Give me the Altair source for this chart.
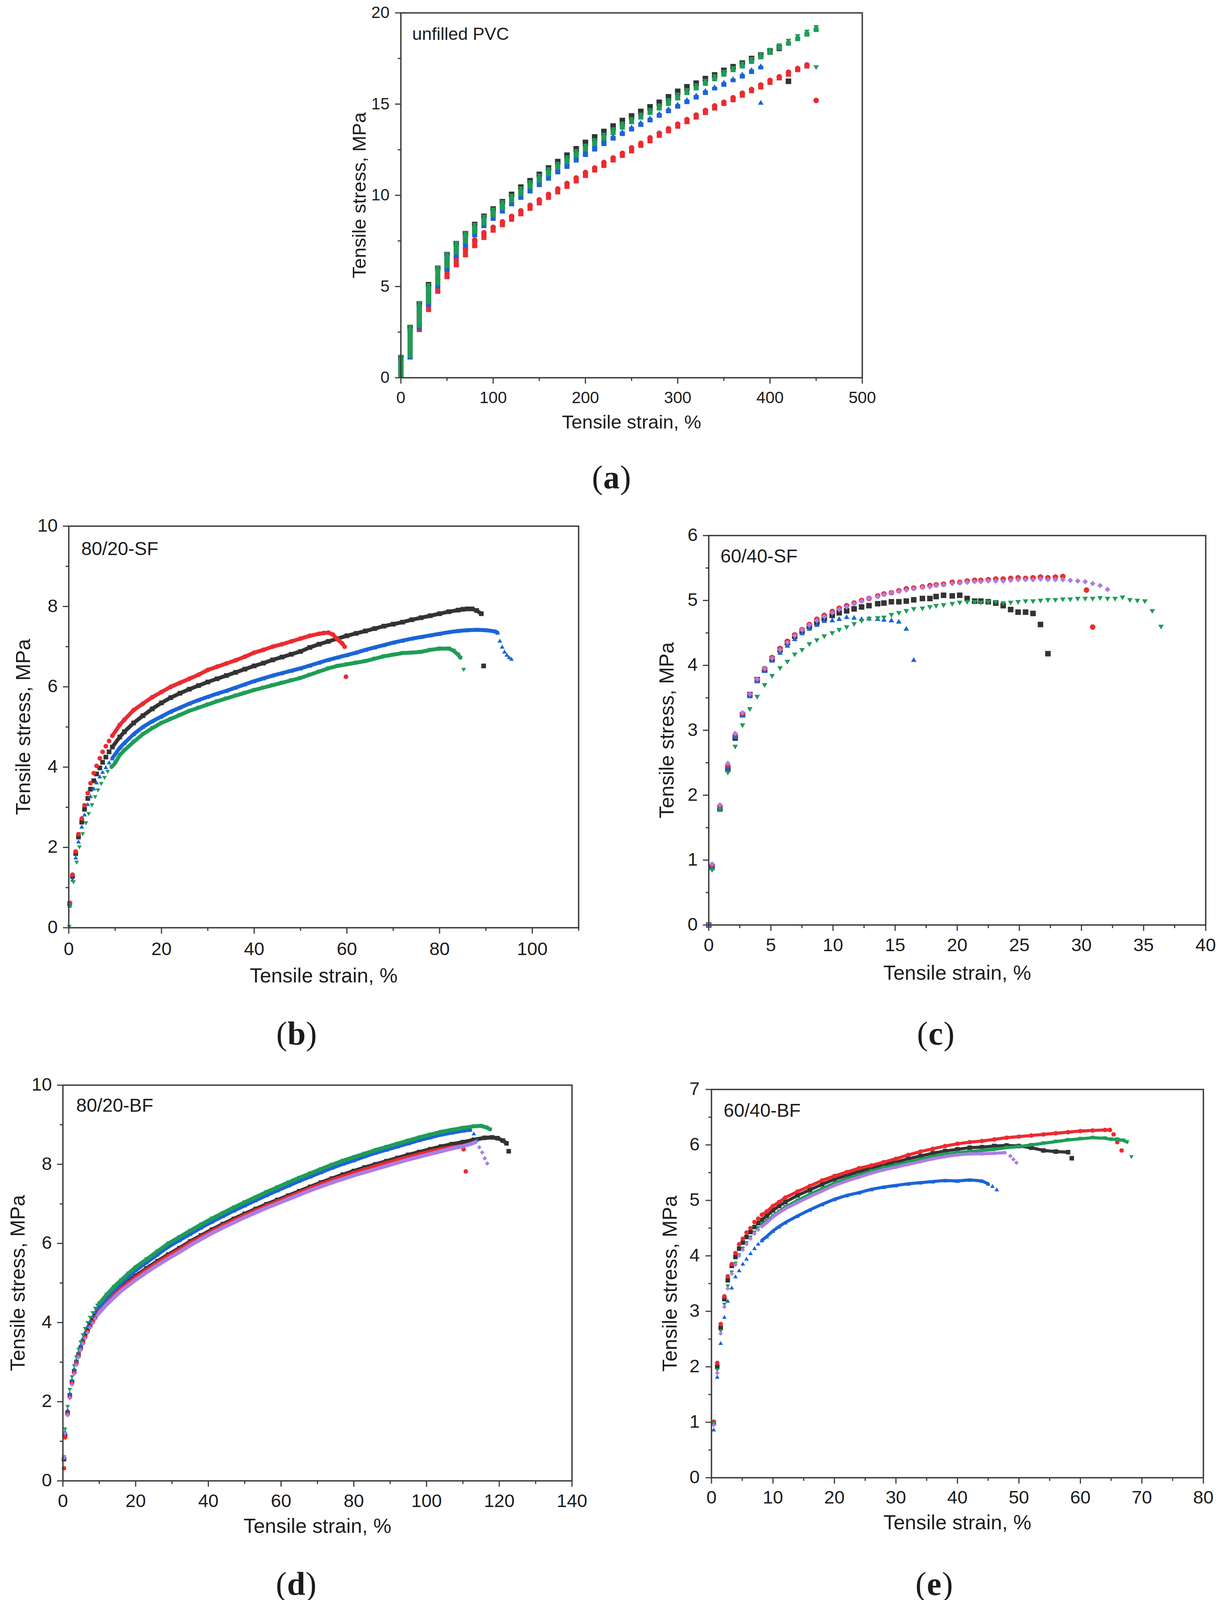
import altair as alt
import pandas as pd

# ============================== DATA ==============================
# ---- (a) unfilled PVC (strain recorded in 10 % steps) ----
A_STRAIN = [0, 10, 20, 30, 40, 50, 60, 70, 80, 90, 100, 110, 120, 130, 140, 150,
            160, 170, 180, 190, 200, 210, 220, 230, 240, 250, 260, 270, 280, 290,
            300, 310, 320, 330, 340, 350, 360, 370, 380, 390, 400, 410, 420, 430,
            440, 450]
A_BLACK_X = A_STRAIN[:43]
A_BLACK_Y = [1.1, 2.75, 4.05, 5.1, 6.0, 6.75, 7.35, 7.9, 8.4, 8.85,
             9.25, 9.65, 10.05, 10.45, 10.8, 11.15, 11.5, 11.85, 12.2, 12.55,
             12.9, 13.2, 13.5, 13.8, 14.1, 14.35, 14.6, 14.85, 15.1, 15.4,
             15.7, 15.95, 16.15, 16.4, 16.6, 16.85, 17.05, 17.25, 17.5, 17.7,
             17.9, 18.1, 16.25]
A_RED_X = A_STRAIN
A_RED_Y = [1.0, 2.5, 3.6, 4.6, 5.4, 6.05, 6.6, 7.1, 7.55, 7.95,
           8.25, 8.55, 8.85, 9.15, 9.45, 9.75, 10.05, 10.35, 10.65, 10.95,
           11.25, 11.5, 11.8, 12.05, 12.3, 12.6, 12.85, 13.15, 13.4, 13.65,
           13.9, 14.15, 14.4, 14.65, 14.9, 15.1, 15.35, 15.6, 15.8, 16.05,
           16.3, 16.5, 16.75, 16.95, 17.15, 15.2]
A_BLUE_X = A_STRAIN[:40] + [390]
A_BLUE_Y = [1.0, 2.6, 3.9, 4.9, 5.8, 6.55, 7.15, 7.7, 8.2, 8.6,
            9.0, 9.4, 9.75, 10.1, 10.45, 10.8, 11.15, 11.45, 11.8, 12.1,
            12.4, 12.7, 13.0, 13.25, 13.5, 13.75, 14.0, 14.25, 14.5, 14.75,
            15.0, 15.25, 15.5, 15.75, 15.95, 16.2, 16.4, 16.65, 16.9, 17.1,
            15.1]
A_GREEN_X = A_STRAIN + [450]
A_GREEN_Y = [1.1, 2.75, 4.05, 5.05, 6.0, 6.75, 7.35, 7.9, 8.35, 8.8,
             9.2, 9.6, 9.95, 10.35, 10.7, 11.05, 11.4, 11.7, 12.05, 12.4,
             12.7, 13.0, 13.3, 13.6, 13.9, 14.15, 14.4, 14.65, 14.9, 15.2,
             15.5, 15.75, 16.0, 16.25, 16.5, 16.75, 16.95, 17.2, 17.45, 17.7,
             17.95, 18.2, 18.45, 18.7, 18.95, 19.2, 17.0]

# ---- (b) 80/20-SF ----
B_EARLY_X = [0.2, 0.8, 1.5, 2.1, 2.8, 3.4, 4.1, 4.7, 5.4, 6.0, 6.7, 7.3, 8.0, 8.7]
B_BLACK_PTS_X = B_EARLY_X + [89.5]
B_BLACK_PTS_Y = [0.6, 1.28, 1.85, 2.26, 2.63, 2.95, 3.22, 3.45, 3.66, 3.83, 3.98, 4.12, 4.25, 4.38, 6.52]
B_BLACK_CURVE_X = [9.4, 11, 12, 14, 16, 18, 20, 22, 24, 26, 28, 30, 32, 34, 36, 38, 40, 42, 44, 46,
                   48, 50, 52, 54, 56, 58, 60, 62, 64, 66, 68, 70, 72, 74, 76, 78, 80, 82, 84, 85,
                   86, 87, 88, 89]
B_BLACK_CURVE_Y = [4.5, 4.75, 4.88, 5.1, 5.28, 5.45, 5.6, 5.73, 5.84, 5.94,
                   6.03, 6.12, 6.2, 6.28, 6.36, 6.44, 6.52, 6.59, 6.67, 6.74,
                   6.81, 6.88, 6.98, 7.06, 7.13, 7.2, 7.27, 7.33, 7.39, 7.45,
                   7.51, 7.56, 7.61, 7.67, 7.72, 7.77, 7.82, 7.87, 7.91, 7.93,
                   7.94, 7.94, 7.9, 7.82]
B_RED_PTS_X = B_EARLY_X + [59.8]
B_RED_PTS_Y = [0.62, 1.32, 1.9, 2.33, 2.72, 3.05, 3.35, 3.6, 3.85, 4.03, 4.22, 4.38, 4.52, 4.65, 6.25]
B_RED_CURVE_X = [9.4, 11, 12, 14, 16, 18, 20, 22, 24, 26, 28, 30, 32, 34, 36, 38, 40, 42, 44, 46,
                 48, 50, 52, 54, 55, 56, 57, 58, 59, 59.5]
B_RED_CURVE_Y = [4.78, 5.05, 5.18, 5.42, 5.58, 5.74, 5.87, 6.0, 6.1, 6.2,
                 6.3, 6.42, 6.5, 6.58, 6.66, 6.75, 6.85, 6.92, 7.0, 7.06,
                 7.13, 7.2, 7.27, 7.32, 7.34, 7.35, 7.3, 7.18, 7.08, 7.0]
B_BLUE_PTS_X = B_EARLY_X + [93.0, 93.5, 94.0, 94.5, 95.0, 95.5]
B_BLUE_PTS_Y = [0.55, 1.2, 1.75, 2.15, 2.52, 2.82, 3.08, 3.28, 3.47, 3.62, 3.77, 3.88, 4.0, 4.12,
                7.15, 7.0, 6.88, 6.8, 6.74, 6.7]
B_BLUE_CURVE_X = [9.4, 11, 12, 14, 16, 18, 20, 22, 24, 26, 28, 30, 32, 34, 36, 38, 40, 42, 44, 46,
                  48, 50, 52, 54, 56, 58, 60, 62, 64, 66, 68, 70, 72, 74, 76, 78, 80, 82, 84, 86,
                  88, 90, 92, 92.5]
B_BLUE_CURVE_Y = [4.22, 4.48, 4.6, 4.82, 5.0, 5.14, 5.26, 5.38, 5.48, 5.58,
                  5.67, 5.75, 5.83, 5.9, 5.98, 6.06, 6.14, 6.21, 6.28, 6.34,
                  6.4, 6.46, 6.53, 6.6, 6.67, 6.73, 6.79, 6.85, 6.92, 6.98,
                  7.04, 7.1, 7.15, 7.2, 7.24, 7.28, 7.32, 7.36, 7.39, 7.41,
                  7.42, 7.41, 7.38, 7.35]
B_GREEN_PTS_X = [0.1, 0.3, 1.0, 1.7, 2.3, 3.0, 3.7, 4.3, 5.0, 5.7, 6.3, 7.0, 7.7, 8.4, 85.2]
B_GREEN_PTS_Y = [0.02, 0.56, 1.13, 1.62, 2.0, 2.33, 2.6, 2.83, 3.05, 3.25, 3.42, 3.58, 3.73, 3.88, 6.42]
B_GREEN_CURVE_X = [9.2, 10, 11, 12, 14, 16, 18, 20, 22, 24, 26, 28, 30, 32, 34, 36, 38, 40, 42, 44,
                   46, 48, 50, 52, 54, 56, 58, 60, 62, 64, 66, 68, 70, 72, 74, 76, 78, 80, 82, 83,
                   84, 84.5]
B_GREEN_CURVE_Y = [4.0, 4.1, 4.3, 4.42, 4.63, 4.82, 4.97, 5.1, 5.2, 5.3,
                   5.4, 5.48, 5.56, 5.64, 5.71, 5.78, 5.85, 5.92, 5.98, 6.04,
                   6.1, 6.16, 6.22, 6.3, 6.38, 6.46, 6.52, 6.56, 6.6, 6.64,
                   6.7, 6.76, 6.8, 6.84, 6.85, 6.87, 6.92, 6.95, 6.95, 6.9,
                   6.8, 6.72]

# ---- (c) 60/40-SF (discrete markers) ----
C_X = [0.0, 0.27, 0.9, 1.54, 2.13, 2.72, 3.31, 3.9, 4.5, 5.1, 5.74, 6.33, 6.92, 7.51, 8.1,
       8.7, 9.3, 9.94, 10.5, 11.1, 11.7, 12.3, 12.9, 13.6, 14.1, 14.7, 15.3, 15.9, 16.5,
       17.2, 17.8, 18.3, 18.9, 19.6, 20.2, 20.8, 21.4, 21.9, 22.5, 23.1, 23.7, 24.3, 24.9,
       25.5, 26.1, 26.7, 27.3, 27.9, 28.5, 29.1, 29.7, 30.3, 30.9, 31.5, 32.1, 32.7, 33.3,
       33.9, 34.5, 35.1, 35.7, 36.4]
C_BLACK_X = C_X[:47]
C_BLACK_Y = [0.0, 0.9, 1.8, 2.4, 2.88, 3.24, 3.55, 3.78, 3.93, 4.1, 4.24,
             4.35, 4.45, 4.53, 4.6, 4.66, 4.72, 4.77, 4.81, 4.84, 4.87,
             4.9, 4.92, 4.95, 4.96, 4.98, 4.98, 4.99, 5.01, 5.03, 5.03,
             5.06, 5.08, 5.07, 5.08, 5.03, 4.99, 4.99, 4.98, 4.96, 4.92,
             4.86, 4.82, 4.82, 4.8, 4.63, 4.18]
C_RED_X = C_X[:49] + [30.4, 30.9]
C_RED_Y = [0.0, 0.92, 1.83, 2.45, 2.92, 3.25, 3.55, 3.78, 3.95, 4.12, 4.26,
           4.37, 4.47, 4.55, 4.63, 4.71, 4.77, 4.83, 4.88, 4.92, 4.96,
           5.0, 5.03, 5.07, 5.1, 5.12, 5.15, 5.18, 5.19, 5.21, 5.23,
           5.24, 5.25, 5.28, 5.28, 5.3, 5.31, 5.31, 5.32, 5.33, 5.33,
           5.34, 5.35, 5.34, 5.35, 5.36, 5.35, 5.36, 5.37, 5.16, 4.59]
C_BLUE_X = C_X[:29]
C_BLUE_Y = [0.0, 0.88, 1.78, 2.42, 2.9, 3.24, 3.53, 3.76, 3.92, 4.08, 4.2,
            4.31, 4.41, 4.5, 4.57, 4.63, 4.69, 4.7, 4.72, 4.75, 4.74,
            4.72, 4.73, 4.72, 4.71, 4.7, 4.68, 4.57, 4.09]
C_GREEN_X = C_X
C_GREEN_Y = [0.0, 0.84, 1.77, 2.34, 2.74, 3.07, 3.32, 3.51, 3.69, 3.83, 3.95,
             4.05, 4.16, 4.23, 4.32, 4.38, 4.44, 4.49, 4.54, 4.58, 4.63,
             4.68, 4.71, 4.72, 4.73, 4.77, 4.8, 4.83, 4.86, 4.87, 4.89,
             4.91, 4.92, 4.94, 4.96, 4.97, 4.97, 4.96, 4.97, 4.97, 4.95,
             4.96, 4.97, 4.98, 4.98, 4.99, 5.0, 5.0, 5.01, 5.01, 5.02,
             5.02, 5.02, 5.03, 5.02, 5.02, 5.04, 5.0, 4.99, 4.98, 4.83, 4.59]
C_PURPLE_X = C_X[:55]
C_PURPLE_Y = [0.0, 0.94, 1.85, 2.49, 2.95, 3.27, 3.56, 3.79, 3.95, 4.11, 4.24,
              4.35, 4.46, 4.55, 4.62, 4.69, 4.75, 4.81, 4.86, 4.9, 4.95,
              4.99, 5.03, 5.06, 5.09, 5.12, 5.14, 5.16, 5.18, 5.2, 5.21,
              5.23, 5.24, 5.26, 5.27, 5.28, 5.29, 5.29, 5.3, 5.3, 5.3,
              5.31, 5.32, 5.32, 5.32, 5.33, 5.32, 5.32, 5.32, 5.31, 5.3,
              5.29, 5.26, 5.23, 5.17]

# ---- (d) 80/20-BF ----
D_EARLY_X = [0.3, 0.6, 1.3, 1.9, 2.5, 3.1, 3.7, 4.3, 4.9, 5.5, 6.1, 6.8, 7.5, 8.2, 8.9, 9.5]
D_CURVE_X = [10, 12, 14, 16, 18, 20, 23, 26, 29, 32, 35, 38, 41, 44, 47, 50, 53, 56, 59, 62,
             65, 68, 71, 74, 77, 80, 83, 86, 89, 92, 95, 98, 101, 104, 107, 110]
D_BLACK_PTS_X = D_EARLY_X + [122.6]
D_BLACK_PTS_Y = [0.55, 1.15, 1.72, 2.16, 2.5, 2.77, 3.0, 3.19, 3.37, 3.53, 3.67, 3.81, 3.94, 4.06, 4.17, 4.26, 8.33]
D_BLACK_CURVE_X = D_CURVE_X + [113, 116, 118, 119.5, 121, 122]
D_BLACK_CURVE_Y = [4.33, 4.54, 4.72, 4.89, 5.04, 5.18, 5.37, 5.55, 5.72, 5.88,
                   6.05, 6.2, 6.35, 6.49, 6.62, 6.75, 6.87, 6.99, 7.1, 7.21,
                   7.32, 7.43, 7.54, 7.64, 7.74, 7.83, 7.92, 8.0, 8.08, 8.16,
                   8.24, 8.31, 8.38, 8.45, 8.51, 8.56, 8.62, 8.67, 8.68, 8.66,
                   8.6, 8.53]
D_RED_PTS_X = D_EARLY_X + [110.2, 110.8]
D_RED_PTS_Y = [0.32, 1.1, 1.68, 2.12, 2.46, 2.73, 2.96, 3.15, 3.33, 3.49, 3.63, 3.77, 3.9, 4.02, 4.13, 4.22, 8.38, 7.82]
D_RED_CURVE_X = D_CURVE_X[:35] + [109]
D_RED_CURVE_Y = [4.3, 4.5, 4.68, 4.85, 5.0, 5.14, 5.33, 5.51, 5.68, 5.84,
                 6.01, 6.16, 6.31, 6.45, 6.58, 6.71, 6.83, 6.95, 7.06, 7.17,
                 7.28, 7.39, 7.5, 7.6, 7.69, 7.78, 7.87, 7.95, 8.03, 8.11,
                 8.18, 8.25, 8.32, 8.38, 8.43, 8.45]
D_BLUE_PTS_X = D_EARLY_X + [113, 113.8]
D_BLUE_PTS_Y = [0.58, 1.25, 1.8, 2.22, 2.56, 2.84, 3.06, 3.26, 3.44, 3.61, 3.77, 3.92, 4.05, 4.17, 4.28, 4.37, 8.78, 8.62]
D_BLUE_CURVE_X = D_CURVE_X + [112]
D_BLUE_CURVE_Y = [4.4, 4.62, 4.82, 5.0, 5.16, 5.32, 5.52, 5.72, 5.92, 6.08,
                  6.24, 6.4, 6.55, 6.69, 6.83, 6.96, 7.09, 7.22, 7.34, 7.46,
                  7.58, 7.69, 7.8, 7.91, 8.01, 8.1, 8.2, 8.29, 8.37, 8.45,
                  8.53, 8.61, 8.68, 8.75, 8.8, 8.85, 8.87]
D_GREEN_PTS_X = D_EARLY_X
D_GREEN_PTS_Y = [0.6, 1.3, 1.87, 2.3, 2.62, 2.9, 3.12, 3.32, 3.5, 3.68, 3.84, 3.99, 4.12, 4.24, 4.35, 4.43]
D_GREEN_CURVE_X = D_CURVE_X + [113, 115, 116.5, 117.5]
D_GREEN_CURVE_Y = [4.48, 4.7, 4.9, 5.07, 5.24, 5.4, 5.6, 5.8, 6.0, 6.16,
                   6.32, 6.48, 6.63, 6.77, 6.91, 7.04, 7.17, 7.3, 7.42, 7.54,
                   7.66, 7.77, 7.88, 7.99, 8.09, 8.18, 8.27, 8.36, 8.44, 8.52,
                   8.6, 8.68, 8.75, 8.82, 8.87, 8.92, 8.96, 8.97, 8.93, 8.88]
D_PURPLE_PTS_X = D_EARLY_X + [114.5, 115.3, 116.0, 116.7]
D_PURPLE_PTS_Y = [0.59, 1.2, 1.66, 2.09, 2.43, 2.7, 2.93, 3.12, 3.3, 3.46, 3.6, 3.74, 3.87, 3.98, 4.09, 4.18,
                  8.43, 8.3, 8.15, 8.02]
D_PURPLE_CURVE_X = D_CURVE_X + [112, 113.5]
D_PURPLE_CURVE_Y = [4.25, 4.45, 4.63, 4.8, 4.94, 5.08, 5.27, 5.45, 5.62, 5.78,
                    5.95, 6.11, 6.26, 6.4, 6.53, 6.66, 6.78, 6.9, 7.01, 7.12,
                    7.23, 7.34, 7.44, 7.54, 7.63, 7.72, 7.8, 7.88, 7.96, 8.04,
                    8.12, 8.19, 8.26, 8.33, 8.4, 8.46, 8.51, 8.56]

# ---- (e) 60/40-BF ----
E_EARLY_X = [0.37, 0.94, 1.5, 2.1, 2.65, 3.3, 3.9, 4.5, 5.1, 5.7, 6.35, 7.0, 7.6]
E_CURVE_X = [8.2, 9, 10, 11, 12, 14, 16, 18, 20, 22, 24, 26, 28, 30, 32, 34, 36, 38, 40, 42,
             44, 46, 48, 50, 52, 54, 56, 58, 60, 62, 64]
E_BLACK_PTS_X = E_EARLY_X + [58.6]
E_BLACK_PTS_Y = [0.99, 2.0, 2.7, 3.22, 3.56, 3.82, 3.98, 4.13, 4.24, 4.34, 4.43, 4.52, 4.59, 5.76]
E_BLACK_CURVE_X = E_CURVE_X[:28]
E_BLACK_CURVE_Y = [4.65, 4.72, 4.82, 4.9, 4.97, 5.09, 5.19, 5.29, 5.38, 5.45,
                   5.52, 5.58, 5.64, 5.69, 5.75, 5.8, 5.85, 5.89, 5.92, 5.95,
                   5.96, 5.98, 5.99, 5.98, 5.95, 5.9, 5.88, 5.87]
E_RED_PTS_X = E_EARLY_X + [65.4, 66.0, 66.7]
E_RED_PTS_Y = [1.01, 2.07, 2.77, 3.27, 3.63, 3.85, 4.05, 4.21, 4.31, 4.42, 4.5, 4.61, 4.67, 6.19, 6.05, 5.9]
E_RED_CURVE_X = E_CURVE_X + [64.8]
E_RED_CURVE_Y = [4.74, 4.8, 4.9, 4.97, 5.05, 5.16, 5.26, 5.36, 5.44, 5.51,
                 5.58, 5.63, 5.69, 5.75, 5.82, 5.88, 5.93, 5.98, 6.02, 6.05,
                 6.07, 6.1, 6.13, 6.15, 6.17, 6.19, 6.21, 6.23, 6.25, 6.26,
                 6.27, 6.27]
E_BLUE_PTS_X = E_EARLY_X + [45.7, 46.4]
E_BLUE_PTS_Y = [0.87, 1.82, 2.43, 2.9, 3.19, 3.43, 3.63, 3.74, 3.86, 3.95, 4.05, 4.14, 4.22, 5.26, 5.2]
E_BLUE_CURVE_X = E_CURVE_X[:21] + [45]
E_BLUE_CURVE_Y = [4.28, 4.35, 4.45, 4.53, 4.6, 4.72, 4.83, 4.93, 5.02, 5.09,
                  5.14, 5.2, 5.24, 5.27, 5.3, 5.32, 5.34, 5.36, 5.35, 5.37,
                  5.35, 5.3]
E_GREEN_PTS_X = E_EARLY_X + [68.3]
E_GREEN_PTS_Y = [0.97, 1.94, 2.64, 3.12, 3.45, 3.7, 3.86, 4.01, 4.13, 4.23, 4.33, 4.42, 4.5, 5.78]
E_GREEN_CURVE_X = E_CURVE_X + [65, 66, 67, 67.6]
E_GREEN_CURVE_Y = [4.57, 4.63, 4.72, 4.8, 4.88, 5.0, 5.11, 5.21, 5.31, 5.39,
                   5.46, 5.53, 5.59, 5.64, 5.69, 5.74, 5.79, 5.83, 5.86, 5.88,
                   5.9, 5.92, 5.95, 5.97, 6.0, 6.03, 6.06, 6.09, 6.11, 6.13,
                   6.12, 6.1, 6.1, 6.08, 6.05]
E_PURPLE_PTS_X = E_EARLY_X + [48.6, 49.1, 49.6]
E_PURPLE_PTS_Y = [0.95, 1.89, 2.6, 3.08, 3.41, 3.68, 3.84, 4.0, 4.11, 4.21, 4.31, 4.4, 4.47, 5.8, 5.74, 5.68]
E_PURPLE_CURVE_X = E_CURVE_X[:22] + [47.7]
E_PURPLE_CURVE_Y = [4.53, 4.6, 4.7, 4.78, 4.85, 4.96, 5.07, 5.17, 5.27, 5.35,
                    5.42, 5.49, 5.55, 5.6, 5.65, 5.7, 5.75, 5.79, 5.82, 5.84,
                    5.84, 5.85, 5.86]

# ---- axis ticks ----
A_XMAJ, A_XMIN = [0, 100, 200, 300, 400, 500], [50, 150, 250, 350, 450]
A_YMAJ, A_YMIN = [0, 5, 10, 15, 20], [2.5, 7.5, 12.5, 17.5]
B_XMAJ, B_XMIN = [0, 20, 40, 60, 80, 100], [10, 30, 50, 70, 90, 110]
B_YMAJ, B_YMIN = [0, 2, 4, 6, 8, 10], [1, 3, 5, 7, 9]
C_XMAJ, C_XMIN = [0, 5, 10, 15, 20, 25, 30, 35, 40], [2.5, 7.5, 12.5, 17.5, 22.5, 27.5, 32.5, 37.5]
C_YMAJ, C_YMIN = [0, 1, 2, 3, 4, 5, 6], [0.5, 1.5, 2.5, 3.5, 4.5, 5.5]
D_XMAJ, D_XMIN = [0, 20, 40, 60, 80, 100, 120, 140], [10, 30, 50, 70, 90, 110, 130]
D_YMAJ, D_YMIN = [0, 2, 4, 6, 8, 10], [1, 3, 5, 7, 9]
E_XMAJ, E_XMIN = [0, 10, 20, 30, 40, 50, 60, 70, 80], [5, 15, 25, 35, 45, 55, 65, 75]
E_YMAJ, E_YMIN = [0, 1, 2, 3, 4, 5, 6, 7], [0.5, 1.5, 2.5, 3.5, 4.5, 5.5, 6.5]

X_TITLE = "Tensile strain, %"
Y_TITLE = "Tensile stress, MPa"

# ============================== STYLE ==============================
COLORS = {"black": "#333333", "red": "#ec2b30", "blue": "#1b64d8",
          "green": "#1f9d57", "purple": "#ad7de4"}
SHAPES = {"black": "square", "red": "circle", "blue": "triangle-up",
          "green": "triangle-down", "purple": "diamond"}
FONT = "Liberation Sans"
SERIF = "Liberation Serif"
INK = "#1c1c1c"
FRAME = "#3a3a3a"
M = 8                      # page margin
W, H = 3104, 4101          # drawing canvas
ONE = pd.DataFrame({"k": [0]})


def XQ(field, sx):
    return alt.X(field, type="quantitative", scale=sx, axis=None)


def YQ(field, sy):
    return alt.Y(field, type="quantitative", scale=sy, axis=None)


def pts_layer(xs, ys, key, size, sx, sy):
    n = min(len(xs), len(ys))
    df = pd.DataFrame({"x": xs[:n], "y": ys[:n]})
    return alt.Chart(df).mark_point(shape=SHAPES[key], filled=True, size=size,
                                    color=COLORS[key], opacity=1, strokeWidth=0).encode(
        x=XQ("x", sx), y=YQ("y", sy))


def line_layer(xs, ys, key, lw, sx, sy):
    n = min(len(xs), len(ys))
    df = pd.DataFrame({"x": xs[:n], "y": ys[:n]})
    return alt.Chart(df).mark_line(color=COLORS[key], strokeWidth=lw,
                                   strokeJoin="round", strokeCap="round").encode(
        x=XQ("x", sx), y=YQ("y", sy))


def stair_df(xs, ys):
    n = min(len(xs), len(ys))
    lo = []
    for i in range(n):
        if i == 0:
            lo.append(0.0)
        elif xs[i] > xs[i - 1] and ys[i - 1] < ys[i]:
            lo.append(ys[i - 1])
        else:
            lo.append(ys[i])
    return pd.DataFrame({"x": xs[:n], "lo": lo, "hi": ys[:n]})


def series_a(sx, sy):
    out = []
    for key, xs, ys in [("black", A_BLACK_X, A_BLACK_Y), ("red", A_RED_X, A_RED_Y),
                        ("blue", A_BLUE_X, A_BLUE_Y), ("green", A_GREEN_X, A_GREEN_Y)]:
        df = stair_df(xs, ys)
        out.append(alt.Chart(df).mark_rule(color=COLORS[key], strokeWidth=13).encode(
            x=XQ("x", sx), y=YQ("lo", sy), y2=alt.Y2("hi")))
        out.append(alt.Chart(df).mark_point(shape=SHAPES[key], filled=True, size=200,
                                            color=COLORS[key], opacity=1, strokeWidth=0).encode(
            x=XQ("x", sx), y=YQ("hi", sy)))
    return out


def curve_series(spec, size, lw):
    def f(sx, sy):
        out = []
        for key, px_, py_, cx, cy in spec:
            out.append(line_layer(cx, cy, key, lw, sx, sy))
            out.append(pts_layer(px_ + cx, py_ + cy, key, size, sx, sy))
        return out
    return f


def point_series(spec, size):
    def f(sx, sy):
        return [pts_layer(xs, ys, key, size, sx, sy) for key, xs, ys in spec]
    return f


def text_layer(text, x, y, size, font=FONT, weight="normal", align="center",
               baseline="middle", angle=0):
    kw = dict(text=text, font=font, fontSize=size, fontWeight=weight, align=align,
              baseline=baseline, color=INK)
    if angle:
        kw["angle"] = angle
    return alt.Chart(ONE).mark_text(**kw).encode(x=alt.value(x), y=alt.value(y))


def build_panel(p):
    x0, x1, y0, y1 = [v - M for v in p["geom"]]
    sx = alt.Scale(domain=p["xdom"], range=[x0, x1], nice=False, zero=False)
    sy = alt.Scale(domain=p["ydom"], range=[y1, y0], nice=False, zero=False)
    st = p["style"]
    layers = list(p["series"](sx, sy))
    tmaj, tmin, tw = 15, 8, 3
    # ticks
    layers.append(alt.Chart(pd.DataFrame({"v": p["xmaj"]})).mark_rule(color=FRAME, strokeWidth=tw).encode(
        x=XQ("v", sx), y=alt.value(y1), y2=alt.value(y1 + tmaj)))
    layers.append(alt.Chart(pd.DataFrame({"v": p["xmin"]})).mark_rule(color=FRAME, strokeWidth=tw).encode(
        x=XQ("v", sx), y=alt.value(y1), y2=alt.value(y1 + tmin)))
    layers.append(alt.Chart(pd.DataFrame({"v": p["ymaj"]})).mark_rule(color=FRAME, strokeWidth=tw).encode(
        y=YQ("v", sy), x=alt.value(x0 - tmaj), x2=alt.value(x0)))
    layers.append(alt.Chart(pd.DataFrame({"v": p["ymin"]})).mark_rule(color=FRAME, strokeWidth=tw).encode(
        y=YQ("v", sy), x=alt.value(x0 - tmin), x2=alt.value(x0)))
    # frame
    layers.append(alt.Chart(ONE).mark_rect(fillOpacity=0, stroke=FRAME, strokeWidth=3.5).encode(
        x=alt.value(x0), x2=alt.value(x1), y=alt.value(y0), y2=alt.value(y1)))
    # tick labels
    layers.append(alt.Chart(pd.DataFrame({"v": p["xmaj"]})).mark_text(
        font=FONT, fontSize=st["tick"], color=INK, align="center", baseline="middle").encode(
        x=XQ("v", sx), y=alt.value(y1 + st["xlab"]), text=alt.Text("v:Q", format="d")))
    layers.append(alt.Chart(pd.DataFrame({"v": p["ymaj"]})).mark_text(
        font=FONT, fontSize=st["tick"], color=INK, align="right", baseline="middle").encode(
        y=YQ("v", sy), x=alt.value(x0 - st["ylab"]), text=alt.Text("v:Q", format="d")))
    # axis titles
    layers.append(text_layer(X_TITLE, (x0 + x1) / 2, y1 + st["xtitle"], st["title"]))
    layers.append(text_layer(Y_TITLE, x0 - st["ytitle"], (y0 + y1) / 2, st["title"], angle=270))
    # inner label
    layers.append(text_layer(p["label"], x0 + st["in_dx"], y0 + st["in_dy"], st["inner"], align="left"))
    # caption "(x)" with bold letter
    cx, cy = p["cap"][0] - M, p["cap"][1] - M
    cs = 84
    hw = p["cap_hw"]
    base = cy + 0.28 * cs
    layers.append(text_layer("(", cx - hw, base, cs, font=SERIF, align="right", baseline="alphabetic"))
    layers.append(text_layer(p["letter"], cx, base, cs, font=SERIF, weight="bold", baseline="alphabetic"))
    layers.append(text_layer(")", cx + hw, base, cs, font=SERIF, align="left", baseline="alphabetic"))
    return alt.layer(*layers)


STYLE_A = dict(tick=42, title=49, inner=45, xlab=52, xtitle=115, ylab=29, ytitle=105, in_dx=29, in_dy=55)
STYLE_B = dict(tick=47, title=52, inner=48, xlab=56, xtitle=124, ylab=28, ytitle=115, in_dx=32, in_dy=60)
STYLE_C = dict(tick=47, title=52, inner=48, xlab=53, xtitle=124, ylab=28, ytitle=106, in_dx=30, in_dy=55)
STYLE_D = dict(tick=47, title=52, inner=48, xlab=53, xtitle=117, ylab=28, ytitle=114, in_dx=34, in_dy=54)
STYLE_E = dict(tick=47, title=52, inner=48, xlab=52, xtitle=116, ylab=30, ytitle=105, in_dx=31, in_dy=56)

PANELS = [
    dict(geom=(1026, 2207, 33, 967), xdom=[0, 500], ydom=[0, 20], xmaj=A_XMAJ, xmin=A_XMIN,
         ymaj=A_YMAJ, ymin=A_YMIN, style=STYLE_A, label="unfilled PVC", letter="a",
         cap=(1565, 1226), cap_hw=22, series=series_a),
    dict(geom=(176, 1481, 1347, 2375), xdom=[0, 110], ydom=[0, 10], xmaj=B_XMAJ, xmin=B_XMIN,
         ymaj=B_YMAJ, ymin=B_YMIN, style=STYLE_B, label="80/20-SF", letter="b",
         cap=(759, 2650), cap_hw=24,
         series=curve_series([
             ("black", B_BLACK_PTS_X, B_BLACK_PTS_Y, B_BLACK_CURVE_X, B_BLACK_CURVE_Y),
             ("red", B_RED_PTS_X, B_RED_PTS_Y, B_RED_CURVE_X, B_RED_CURVE_Y),
             ("blue", B_BLUE_PTS_X, B_BLUE_PTS_Y, B_BLUE_CURVE_X, B_BLUE_CURVE_Y),
             ("green", B_GREEN_PTS_X, B_GREEN_PTS_Y, B_GREEN_CURVE_X, B_GREEN_CURVE_Y),
         ], size=145, lw=10)),
    dict(geom=(1814, 3086, 1371, 2368), xdom=[0, 40], ydom=[0, 6], xmaj=C_XMAJ, xmin=C_XMIN,
         ymaj=C_YMAJ, ymin=C_YMIN, style=STYLE_C, label="60/40-SF", letter="c",
         cap=(2395, 2650), cap_hw=20,
         series=point_series([
             ("black", C_BLACK_X, C_BLACK_Y), ("red", C_RED_X, C_RED_Y),
             ("blue", C_BLUE_X, C_BLUE_Y), ("green", C_GREEN_X, C_GREEN_Y),
             ("purple", C_PURPLE_X, C_PURPLE_Y)], size=200)),
    dict(geom=(161, 1464, 2778, 3791), xdom=[0, 140], ydom=[0, 10], xmaj=D_XMAJ, xmin=D_XMIN,
         ymaj=D_YMAJ, ymin=D_YMIN, style=STYLE_D, label="80/20-BF", letter="d",
         cap=(758, 4059), cap_hw=24,
         series=curve_series([
             ("black", D_BLACK_PTS_X, D_BLACK_PTS_Y, D_BLACK_CURVE_X, D_BLACK_CURVE_Y),
             ("red", D_RED_PTS_X, D_RED_PTS_Y, D_RED_CURVE_X, D_RED_CURVE_Y),
             ("blue", D_BLUE_PTS_X, D_BLUE_PTS_Y, D_BLUE_CURVE_X, D_BLUE_CURVE_Y),
             ("green", D_GREEN_PTS_X, D_GREEN_PTS_Y, D_GREEN_CURVE_X, D_GREEN_CURVE_Y),
             ("purple", D_PURPLE_PTS_X, D_PURPLE_PTS_Y, D_PURPLE_CURVE_X, D_PURPLE_CURVE_Y),
         ], size=135, lw=10)),
    dict(geom=(1821, 3080, 2789, 3783), xdom=[0, 80], ydom=[0, 7], xmaj=E_XMAJ, xmin=E_XMIN,
         ymaj=E_YMAJ, ymin=E_YMIN, style=STYLE_E, label="60/40-BF", letter="e",
         cap=(2391, 4059), cap_hw=20,
         series=curve_series([
             ("black", E_BLACK_PTS_X, E_BLACK_PTS_Y, E_BLACK_CURVE_X, E_BLACK_CURVE_Y),
             ("red", E_RED_PTS_X, E_RED_PTS_Y, E_RED_CURVE_X, E_RED_CURVE_Y),
             ("blue", E_BLUE_PTS_X, E_BLUE_PTS_Y, E_BLUE_CURVE_X, E_BLUE_CURVE_Y),
             ("green", E_GREEN_PTS_X, E_GREEN_PTS_Y, E_GREEN_CURVE_X, E_GREEN_CURVE_Y),
             ("purple", E_PURPLE_PTS_X, E_PURPLE_PTS_Y, E_PURPLE_CURVE_X, E_PURPLE_CURVE_Y),
         ], size=135, lw=8)),
]

chart = alt.layer(*[build_panel(p) for p in PANELS]).resolve_scale(
    x="independent", y="independent"
).properties(
    width=W, height=H, padding=0, background="white",
    autosize=alt.AutoSizeParams(type="none"),
).configure_view(strokeWidth=0)

chart.save("out.html", embed_options={"renderer": "svg", "actions": False})
